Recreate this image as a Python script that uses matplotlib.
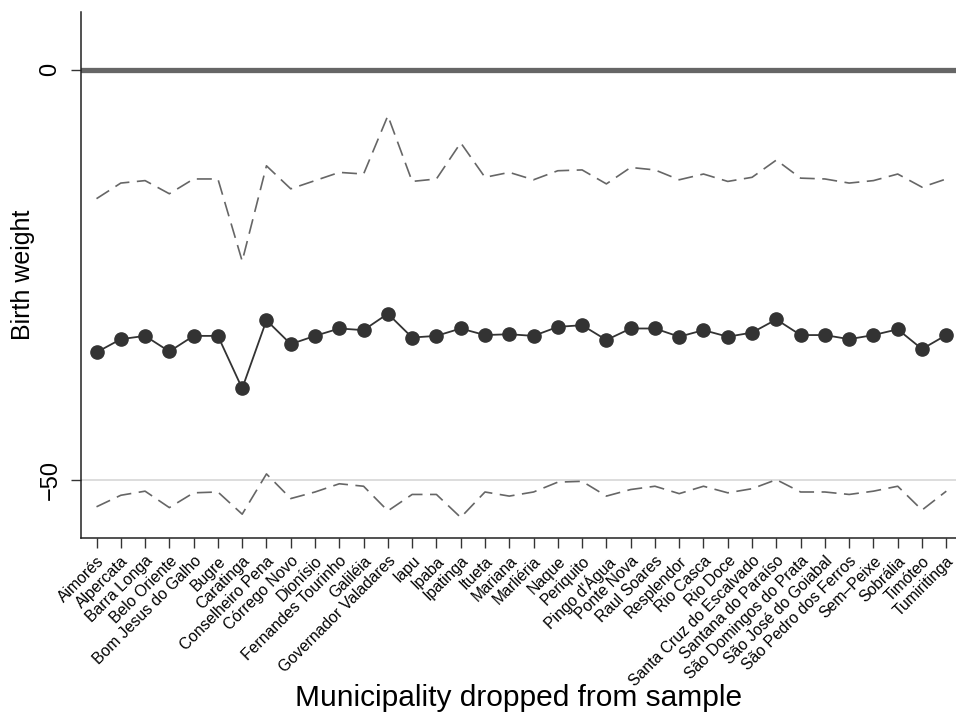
import numpy as np
import matplotlib
matplotlib.use("Agg")
from matplotlib import pyplot as plt

plt.rcParams['font.family'] = ['Liberation Sans', 'DejaVu Sans']

municipalities = ["Aimorés", "Alpercata", "Barra Longa", "Belo Oriente", "Bom Jesus do Galho",
                  "Bugre", "Caratinga", "Conselheiro Pena", "Córrego Novo", "Dionísio",
                  "Fernandes Tourinho", "Galiléia", "Governador Valadares", "Iapu", "Ipaba",
                  "Ipatinga", "Itueta", "Mariana", "Marliéria", "Naque", "Periquito",
                  "Pingo d'Água", "Ponte Nova", "Raul Soares", "Resplendor", "Rio Casca",
                  "Rio Doce", "Santa Cruz do Escalvado", "Santana do Paraíso",
                  "São Domingos do Prata", "São José do Goiabal", "São Pedro dos Ferros",
                  "Sem\u2013Peixe", "Sobrália", "Timóteo", "Tumiritinga"]

estimate = [-34.4, -32.8, -32.4, -34.3, -32.4, -32.4, -38.8, -30.5, -33.4, -32.4,
            -31.5, -31.7, -29.7, -32.6, -32.4, -31.5, -32.3, -32.2, -32.4, -31.3,
            -31.1, -32.9, -31.5, -31.5, -32.5, -31.7, -32.5, -32.0, -30.4, -32.3,
            -32.3, -32.8, -32.3, -31.6, -34.0, -32.3]

upper = [-15.7, -13.8, -13.5, -15.1, -13.3, -13.3, -23.3, -11.7, -14.5, -13.5,
         -12.5, -12.7, -5.6, -13.6, -13.3, -8.9, -13.1, -12.5, -13.4, -12.3,
         -12.2, -13.9, -11.9, -12.2, -13.4, -12.7, -13.6, -13.1, -11.0, -13.2,
         -13.3, -13.8, -13.5, -12.7, -14.3, -13.3]

lower = [-53.2, -51.8, -51.3, -53.3, -51.5, -51.4, -54.1, -49.2, -52.2, -51.4,
         -50.4, -50.7, -53.7, -51.7, -51.7, -54.5, -51.4, -51.9, -51.4, -50.2,
         -50.1, -51.9, -51.1, -50.7, -51.6, -50.7, -51.5, -51.0, -49.9, -51.4,
         -51.4, -51.7, -51.3, -50.7, -53.6, -51.3]

yticks = [0, -50]

x = np.arange(len(municipalities))

fig = plt.figure(figsize=(9.56, 7.16), dpi=100)
ax = fig.add_axes([0.0847, 0.2486, 0.9153, 0.7344])

ax.axhline(0, color="#666666", lw=3.8, zorder=1)
ax.axhline(-50, color="#dddddd", lw=1.4, zorder=1)

ax.plot(x, upper, color="#666666", lw=1.2, dashes=(9, 4.5), zorder=2)
ax.plot(x, lower, color="#666666", lw=1.2, dashes=(9, 4.5), zorder=2)
ax.plot(x, estimate, color="#333333", lw=1.3, marker="o", markersize=9.5, zorder=3)

ax.set_xlim(-0.64, 35.4)
ax.set_ylim(-57, 7)

ax.set_yticks(yticks)
ax.set_yticklabels(["0", "\u221250"], rotation=90, va="center", fontsize=17)
ax.set_xticks(x)
ax.set_xticklabels(municipalities, rotation=45, ha="right", rotation_mode="anchor", fontsize=11.3)
ax.tick_params(axis="both", length=7, width=1, color="#333333")
ax.tick_params(axis="x", pad=4)
ax.tick_params(axis="y", pad=7)

for s in ["top", "right"]:
    ax.spines[s].set_visible(False)
for s in ["left", "bottom"]:
    ax.spines[s].set_linewidth(1.1)
    ax.spines[s].set_color("#222222")

ax.set_ylabel("Birth weight", fontsize=18)
ax.yaxis.set_label_coords(-0.053, 0.5)
ax.set_xlabel("Municipality dropped from sample", fontsize=21.5)
ax.xaxis.set_label_coords(0.5, -0.277)

fig.savefig("out.png", dpi=100)
